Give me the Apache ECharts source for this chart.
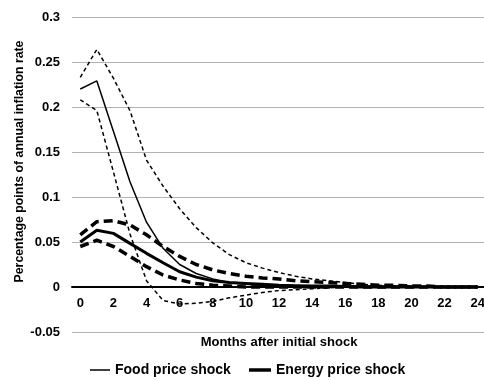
<!DOCTYPE html>
<html><head><meta charset="utf-8">
<script src="https://cdn.jsdelivr.net/npm/echarts@6/dist/echarts.min.js"></script>
<style>html,body{margin:0;padding:0;background:#fff}#c{width:484px;height:380px}</style>
</head><body><div id="c"></div>
<script>
const months = ["0","1","2","3","4","5","6","7","8","9","10","11","12","13","14","15","16","17","18","19","20","21","22","23","24"];
const foodCentral = [0.22,0.229,0.173,0.117,0.072,0.043,0.025,0.015,0.009,0.005,0.003,0.002,0.001,0.001,0.0005,0,0,0,0,0,0,0,0,0,0];
const foodUpper = [0.233,0.264,0.232,0.196,0.141,0.112,0.087,0.066,0.049,0.036,0.027,0.021,0.016,0.012,0.009,0.007,0.005,0.003,0.002,0.001,0.001,0,0,0,0];
const foodLower = [0.208,0.196,0.128,0.059,0.007,-0.015,-0.019,-0.018,-0.016,-0.012,-0.009,-0.006,-0.004,-0.003,-0.002,-0.001,0,0,0,0,0,0,0,0,0];
const energyCentral = [0.05,0.063,0.0596,0.0485,0.0374,0.027,0.017,0.011,0.007,0.005,0.004,0.003,0.002,0.0015,0.001,0.001,0.0005,0,0,0,0,0,0,0,0];
const energyUpper = [0.058,0.0726,0.0737,0.069,0.058,0.045,0.034,0.025,0.019,0.015,0.012,0.01,0.009,0.007,0.006,0.005,0.004,0.003,0.002,0.002,0.001,0.001,0,0,0];
const energyLower = [0.045,0.052,0.045,0.034,0.0226,0.0133,0.0078,0.004,0.002,0.001,0,0,0,0,0,0,0,0,0,0,0,0,0,0,0];
const yTicks = {min:-0.05, max:0.3, interval:0.05};

const F = '"Liberation Sans", Arial, sans-serif';
const chart = echarts.init(document.getElementById('c'));
function s(name, data, width, type) {
  return {name: name, type:'line', data: data, showSymbol:false, symbol:'none', silent:true,
    itemStyle:{color:'#000'},
    lineStyle:{color:'#000', width: width, type: type}, z: 3};
}
const legendText = {fontFamily:F, fontWeight:'bold', fontSize:14, color:'#000'};
chart.setOption({
  animation:false,
  grid:{left:72, top:17, width:414, height:315, outerBoundsMode:'none', containLabel:false},
  legend:[
    {data:[{name:'Food price shock', icon:'rect'}], left:90, top:363, padding:0, itemWidth:20, itemHeight:1.5,
      itemStyle:{color:'#000'}, textStyle:legendText},
    {data:[{name:'Energy price shock', icon:'rect'}], left:249, top:363, padding:0, itemWidth:22, itemHeight:3.5,
      itemStyle:{color:'#000'}, textStyle:legendText}
  ],
  graphic:[{type:'text', x:19.5, y:161.5, rotation:Math.PI/2,
    style:{text:'Percentage points of annual inflation rate', fontSize:12.3, fontWeight:'bold',
      fontFamily:F, fill:'#000', align:'center', verticalAlign:'middle'}}],
  xAxis:{type:'category', data: months, boundaryGap:true,
    position:'bottom', offset:-45,
    name:'Months after initial shock', nameLocation:'middle', nameGap:49,
    nameTextStyle:{fontFamily:F, fontWeight:'bold', fontSize:13, color:'#000'},
    axisLine:{onZero:false, lineStyle:{color:'#000', width:2}},
    axisTick:{show:false},
    axisLabel:{interval:1, margin:10, fontFamily:F, fontWeight:'bold', fontSize:13, color:'#000'}},
  yAxis:{type:'value', min:yTicks.min, max:yTicks.max, interval:yTicks.interval,
    axisLine:{show:false}, axisTick:{show:false},
    axisLabel:{margin:12, fontFamily:F, fontWeight:'bold', fontSize:13, color:'#000'},
    splitLine:{lineStyle:{color:'#b3b3b3', width:1}}},
  series:[
    s('Food price shock', foodCentral, 1.5, 'solid'),
    s('Food upper', foodUpper, 1.5, [4,3]),
    s('Food lower', foodLower, 1.5, [4,3]),
    s('Energy price shock', energyCentral, 3, 'solid'),
    s('Energy upper', energyUpper, 3.5, [9,5]),
    s('Energy lower', energyLower, 3.5, [9,5])
  ]
});
</script></body></html>
